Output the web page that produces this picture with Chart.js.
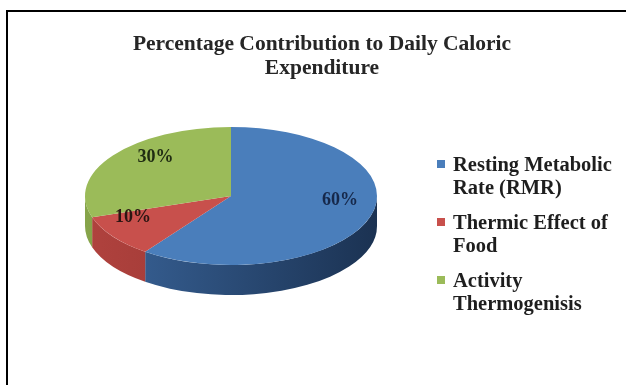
<!DOCTYPE html>
<html>
<head>
<meta charset="utf-8">
<script src="https://cdn.jsdelivr.net/npm/chart.js@4/dist/chart.umd.min.js"></script>
<style>
html,body{margin:0;padding:0;background:#fff;}
#wrap{position:relative;width:626px;height:385px;overflow:hidden;background:#fff;}
#frame{position:absolute;left:6px;top:10px;width:700px;height:500px;border-left:2px solid #000;border-top:2px solid #000;box-sizing:border-box;}
#c{position:absolute;left:0;top:0;}
#title{position:absolute;left:0;width:644px;top:31px;text-align:center;font-family:"Liberation Serif",serif;font-weight:bold;font-size:21.5px;line-height:24px;color:#262626;}
#legend{position:absolute;left:436px;top:153px;font-family:"Liberation Serif",serif;font-weight:bold;font-size:20.5px;color:#1e1e1e;}
.item{position:relative;padding-left:17px;line-height:23px;margin-bottom:12px;white-space:nowrap;}
.sw{position:absolute;left:1px;top:7px;width:8px;height:8px;}
</style>
</head>
<body>
<div id="wrap">
  <div id="frame"></div>
  <canvas id="c" width="626" height="385"></canvas>
  <div id="title">Percentage Contribution to Daily Caloric<br>Expenditure</div>
  <div id="legend"></div>
</div>
<script>
// ---- data ----
const categories = ["Resting Metabolic Rate (RMR)", "Thermic Effect of Food", "Activity Thermogenisis"];
const legendLines = [["Resting Metabolic", "Rate (RMR)"], ["Thermic Effect of", "Food"], ["Activity", "Thermogenisis"]];
const values = [60, 10, 30];
const valueLabels = ["60%", "10%", "30%"];

// ---- styles ----
const topColors = ["#4a7ebb", "#c8504c", "#9bbb59"];
const sideLight = ["#3a659b", "#b0423e", "#86a44a"];
const sideDark  = ["#1b3252", "#8a2f2b", "#5f7a30"];
const labelColors = ["#16284a", "#2a1512", "#1f2b12"];

const TOP_Y = 196;     // screen y of pie top-face centre
const RY = 69;         // half-height of top face
const DEPTH = 30;      // side thickness
const LIFT = 12.5;     // perspective shift of the face centre
const PERSP = 0.22;

const pie3d = {
  id: 'pie3d',
  beforeDatasetsDraw(chart) {
    const ctx = chart.ctx;
    const meta = chart.getDatasetMeta(0);
    const a0 = meta.data[0];
    const cx = a0.x, cy = a0.y, R = a0.outerRadius;
    const k = RY / R;
    ctx.save();
    ctx.translate(0, TOP_Y);
    ctx.scale(1, k);
    ctx.translate(0, -cy);
    const d = DEPTH / k;
    meta.data.forEach((arc, i) => {
      const s = arc.startAngle, e = arc.endAngle;
      const g = ctx.createLinearGradient(cx - R, 0, cx + R, 0);
      g.addColorStop(0, sideLight[i]);
      g.addColorStop(1, sideDark[i]);
      for (let off = -2 * Math.PI; off <= 2 * Math.PI; off += 2 * Math.PI) {
        const a = Math.max(s, off), b = Math.min(e, off + Math.PI);
        if (b > a) {
          ctx.beginPath();
          ctx.arc(cx, cy, R, a, b, false);
          ctx.arc(cx, cy + d, R, b, a, true);
          ctx.closePath();
          ctx.fillStyle = g;
          ctx.fill();
        }
      }
    });
    // top face drawn by Chart.js under this transform; restored afterwards
  },
  afterDatasetsDraw(chart) {
    const ctx = chart.ctx;
    ctx.restore();
    const meta = chart.getDatasetMeta(0);
    ctx.save();
    ctx.font = "bold 18px 'Liberation Serif'";
    ctx.textAlign = 'center';
    ctx.textBaseline = 'middle';
    meta.data.forEach((arc, i) => {
      const R = arc.outerRadius, k = RY / R;
      const m = (arc.startAngle + arc.endAngle) / 2;
      const f = 0.735 * (1 + PERSP * Math.sin(m));
      const x = arc.x + f * R * Math.cos(m);
      const y = TOP_Y - LIFT + f * R * k * Math.sin(m);
      ctx.fillStyle = labelColors[i];
      ctx.fillText(valueLabels[i], x, y);
    });
    ctx.restore();
  }
};

new Chart(document.getElementById('c'), {
  type: 'pie',
  data: {
    labels: categories,
    datasets: [{
      data: values,
      backgroundColor: topColors,
      borderWidth: 0,
      hoverOffset: 0
    }]
  },
  options: {
    responsive: false,
    animation: false,
    events: [],
    layout: { padding: { left: 85, right: 249, top: 0, bottom: 0 } },
    plugins: {
      legend: { display: false },
      title: { display: false },
      tooltip: { enabled: false }
    }
  },
  plugins: [pie3d]
});

// HTML legend built from the categories
const lg = document.getElementById('legend');
categories.forEach((c, i) => {
  const it = document.createElement('div');
  it.className = 'item';
  it.title = c;
  const sw = document.createElement('span');
  sw.className = 'sw';
  sw.style.background = topColors[i];
  it.appendChild(sw);
  it.appendChild(document.createTextNode(legendLines[i][0]));
  it.appendChild(document.createElement('br'));
  it.appendChild(document.createTextNode(legendLines[i][1]));
  lg.appendChild(it);
});
</script>
</body>
</html>
